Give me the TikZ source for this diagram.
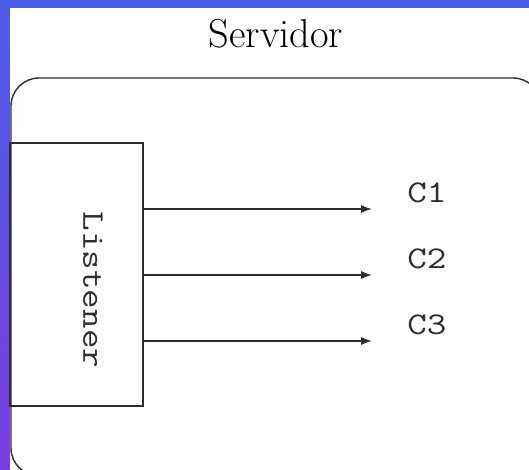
\documentclass[tikz,border=0pt]{standalone}
\usetikzlibrary{arrows.meta}
\definecolor{slideblue}{RGB}{74,92,232}
\definecolor{slidepurple}{RGB}{122,62,224}
\definecolor{ink}{RGB}{45,45,45}
\tikzset{
  frame/.style={draw=ink,line width=0.8pt},
  arr/.style={draw=ink,line width=0.8pt,-{Latex[length=0.22cm,width=0.16cm]}},
  lbl/.style={font=\fontsize{18}{20}\selectfont\ttfamily,text=ink,inner sep=0pt}
}
\begin{document}
\begin{tikzpicture}[x=0.02cm,y=-0.02cm]
    \useasboundingbox (0,0) rectangle (529,470);
    % slide background
    \fill[slideblue] (0,0) rectangle (529,8);
    \shade[top color=slideblue,bottom color=slidepurple] (0,0) rectangle (10,470);
    \fill[white] (10,8) rectangle (529,470);
    \node[font=\fontsize{23}{27}\selectfont,anchor=base,inner sep=0pt] (title) at (276,48) {Servidor};
    \begin{scope}
    \clip (10,8) rectangle (529,470);
    \draw[frame,rounded corners=0.56cm] (11,78) rectangle (541,476);
    \end{scope}
    \node[frame,minimum width=2.66cm,minimum height=5.26cm,inner sep=0pt] (lst) at (76.5,274.5) {};
    \node[lbl,rotate=-90,xscale=1.2] (lsttxt) at (93,290) {Listener};
    \foreach \i/\y in {1/209,2/275,3/341}
    {\coordinate (e\i) at (372,\y);
     \draw[arr] (lst.east |- e\i) -- (e\i);
     \node[lbl,xscale=1.2,anchor=base west] (c\i) at (407,\y-6) {C\i};}
\end{tikzpicture}
\end{document}
